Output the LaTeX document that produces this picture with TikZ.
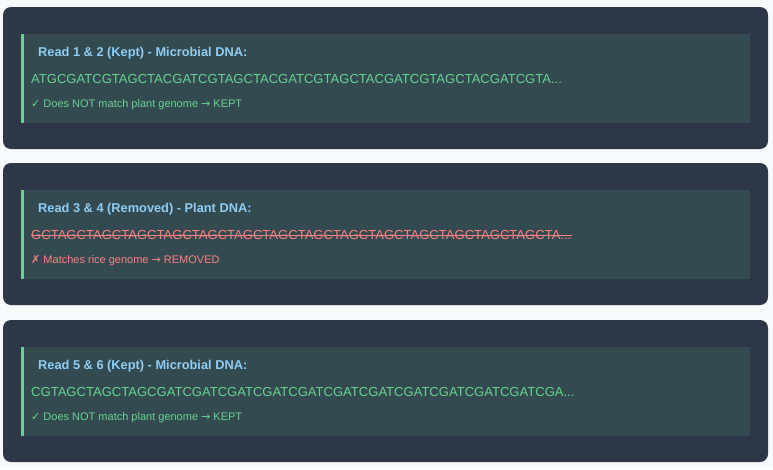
\documentclass[tikz,border=0pt]{standalone}
\usepackage{fontspec}
\setmainfont{Liberation Sans}
\newfontfamily\symfont{DejaVu Sans}
\definecolor{pagebg}{HTML}{F7FAFC}
\definecolor{panelc}{HTML}{2D3748}
\definecolor{innerc}{HTML}{334A50}
\definecolor{barc}{HTML}{68D391}
\definecolor{titlec}{HTML}{90CDF4}
\definecolor{okc}{HTML}{68D391}
\definecolor{badc}{HTML}{FC8181}
\begin{document}
\begin{tikzpicture}[x=1pt,y=-1pt,
  panelbox/.style={fill=panelc, rounded corners=8pt},
  innerbox/.style={fill=innerc},
  barbox/.style={fill=barc},
  titletxt/.style={anchor=base west, inner sep=0pt, text=titlec, font=\fontsize{12.8}{15}\selectfont\bfseries},
  seqtxt/.style={anchor=base west, inner sep=0pt, font=\fontsize{13.05}{15}\selectfont},
  stattxt/.style={anchor=base west, inner sep=0pt, font=\fontsize{11}{13}\selectfont},
  strike/.style={draw=badc, line width=0.9pt}
]
\fill[pagebg] (0,0) rectangle (773,469);
\useasboundingbox (0,0) rectangle (773,469);

% Panel 1
\fill[panelbox] (3,7) rectangle (768,149);
\fill[innerbox] (21,34) rectangle (750,123);
\fill[barbox] (21,34) rectangle (24,123);
\node[titletxt] (t1) at (38,56.7) {Read 1 \& 2 (Kept) - Microbial DNA:};
\node[seqtxt, text=okc] (s1) at (31,83) {ATGCGATCGTAGCTACGATCGTAGCTACGATCGTAGCTACGATCGTAGCTACGATCGTA...};
\node[stattxt, text=okc] (m1) at (31,107.8) {{\symfont ✓} Does NOT match plant genome {\symfont →} KEPT};

% Panel 2
\begin{scope}[shift={(0,156)}]
\fill[panelbox] (3,7) rectangle (768,149);
\fill[innerbox] (21,34) rectangle (750,123);
\fill[barbox] (21,34) rectangle (24,123);
\node[titletxt] (t2) at (38,56.7) {Read 3 \& 4 (Removed) - Plant DNA:};
\node[seqtxt, text=badc] (s2) at (31,83) {GCTAGCTAGCTAGCTAGCTAGCTAGCTAGCTAGCTAGCTAGCTAGCTAGCTAGCTAGCTA...};
\draw[strike] ([yshift=4pt]s2.base west) -- ([yshift=4pt]s2.base east);
\node[stattxt, text=badc] (m2) at (31,107.8) {{\symfont ✗} Matches rice genome {\symfont →} REMOVED};
\end{scope}

% Panel 3
\begin{scope}[shift={(0,313)}]
\fill[panelbox] (3,7) rectangle (768,149);
\fill[innerbox] (21,34) rectangle (750,123);
\fill[barbox] (21,34) rectangle (24,123);
\node[titletxt] (t3) at (38,56.7) {Read 5 \& 6 (Kept) - Microbial DNA:};
\node[seqtxt, text=okc] (s3) at (31,83) {CGTAGCTAGCTAGCGATCGATCGATCGATCGATCGATCGATCGATCGATCGATCGATCGA...};
\node[stattxt, text=okc] (m3) at (31,107.8) {{\symfont ✓} Does NOT match plant genome {\symfont →} KEPT};
\end{scope}
\end{tikzpicture}
\end{document}
